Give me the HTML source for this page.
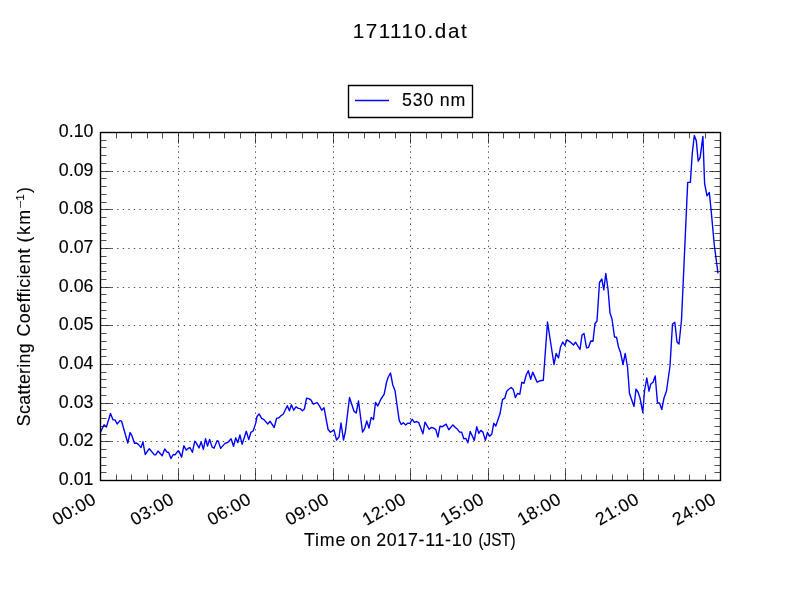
<!DOCTYPE html><html><head><meta charset="utf-8"><style>html,body{margin:0;padding:0;background:#fff;width:800px;height:600px;overflow:hidden}</style></head><body><svg width="800" height="600" viewBox="0 0 800 600" style="display:block;will-change:transform"><rect x="0" y="0" width="800" height="600" fill="#fff"/><path d="M178.50 480.5V132.5M255.50 480.5V132.5M333.50 480.5V132.5M410.50 480.5V132.5M488.50 480.5V132.5M565.50 480.5V132.5M643.50 480.5V132.5M100.5 441.50H720.5M100.5 403.50H720.5M100.5 364.50H720.5M100.5 325.50H720.5M100.5 287.50H720.5M100.5 248.50H720.5M100.5 209.50H720.5M100.5 171.50H720.5" stroke="#000" stroke-width="0.69" stroke-dasharray="1.38889 4.16667" fill="none"/><clipPath id="c"><rect x="100.5" y="132.5" width="620.0" height="348.0"/></clipPath><path d="M100.5 432.3 L104.1 424.8 L106.4 427.0 L110.5 413.5 L113.1 419.9 L115.0 419.9 L117.2 424.0 L119.9 420.6 L121.6 421.2 L127.8 443.0 L130.1 432.5 L131.9 435.7 L134.5 443.2 L136.5 443.0 L138.3 444.4 L141.1 447.6 L142.9 441.6 L145.2 454.5 L149.3 448.7 L154.4 454.9 L155.7 454.9 L158.0 451.0 L162.2 455.8 L164.7 449.0 L167.2 452.3 L168.6 452.3 L170.9 458.6 L173.2 454.5 L175.0 454.9 L178.2 450.7 L179.1 451.6 L181.6 457.1 L183.9 445.7 L186.2 450.1 L188.7 448.0 L190.1 447.8 L192.4 452.3 L194.7 441.3 L196.5 443.4 L199.0 448.0 L201.1 442.0 L203.4 449.3 L205.5 438.8 L207.5 446.1 L209.6 439.4 L212.1 447.0 L214.0 448.2 L217.2 440.6 L218.3 441.1 L220.6 448.4 L225.0 443.4 L227.7 442.5 L231.1 438.8 L233.5 446.3 L235.7 437.8 L237.8 442.6 L239.9 435.0 L242.1 444.2 L246.3 431.3 L248.8 439.6 L250.9 432.3 L253.1 431.0 L255.7 423.4 L257.0 416.5 L259.1 413.9 L261.6 418.3 L263.7 419.4 L267.8 424.0 L270.1 421.3 L274.2 427.5 L276.6 418.3 L278.6 418.1 L280.9 415.8 L283.2 414.2 L287.3 405.7 L289.4 410.8 L291.4 404.7 L293.7 410.2 L296.0 406.8 L298.3 408.4 L300.1 408.6 L302.4 410.8 L304.4 409.0 L306.5 398.3 L308.8 398.6 L311.1 400.1 L313.2 404.1 L317.1 402.6 L319.6 406.1 L321.7 410.2 L324.0 407.7 L328.1 429.5 L330.4 432.2 L334.0 430.1 L336.5 440.0 L339.0 437.0 L341.0 423.0 L343.5 440.0 L345.5 431.0 L349.5 397.5 L354.0 411.2 L356.2 413.0 L358.5 401.0 L362.5 432.0 L364.5 429.0 L366.8 421.0 L369.0 428.0 L371.2 417.5 L373.5 419.5 L375.5 402.5 L377.8 406.0 L381.0 399.0 L384.2 394.2 L386.5 382.5 L388.0 377.5 L390.5 373.0 L392.8 385.0 L395.0 390.5 L399.2 420.4 L401.2 424.5 L403.3 422.7 L405.7 425.0 L407.7 423.2 L410.0 423.4 L412.1 419.2 L414.3 422.4 L416.7 421.5 L418.8 422.7 L422.9 433.8 L425.0 422.1 L429.2 429.3 L431.2 427.5 L433.2 427.9 L435.8 429.6 L437.9 437.1 L440.0 426.2 L442.5 426.7 L446.2 424.2 L448.8 429.8 L452.9 424.9 L455.4 427.5 L457.5 429.3 L459.6 432.1 L461.7 432.3 L463.8 438.8 L465.8 438.3 L467.9 442.7 L470.2 431.5 L474.3 440.4 L476.7 426.8 L478.8 433.3 L480.8 430.4 L482.9 432.1 L485.4 440.4 L487.5 432.5 L489.6 436.2 L491.7 434.3 L493.8 423.3 L495.8 426.0 L500.0 413.8 L502.5 399.6 L504.8 398.2 L506.7 391.2 L508.8 389.2 L511.2 387.5 L513.3 389.6 L515.4 397.5 L517.5 393.5 L519.8 394.2 L521.8 382.3 L524.0 383.3 L526.2 375.0 L528.3 370.7 L530.7 379.2 L532.7 372.1 L537.1 382.1 L540.0 380.8 L543.3 380.2 L547.5 322.0 L554.0 364.5 L556.2 353.5 L558.5 358.0 L560.5 347.0 L562.8 342.0 L564.8 345.5 L567.0 339.8 L570.0 341.8 L573.5 345.0 L575.5 342.2 L580.0 349.5 L582.0 335.0 L584.0 333.5 L586.5 347.8 L588.5 347.5 L590.8 341.0 L593.0 341.2 L595.0 323.5 L597.0 321.0 L599.5 282.5 L601.8 279.0 L603.8 289.8 L605.8 273.5 L608.0 289.0 L610.0 313.0 L612.0 319.0 L614.5 337.0 L616.5 337.2 L618.5 347.0 L620.5 352.5 L623.0 364.5 L625.2 353.5 L627.5 367.0 L629.5 393.5 L634.0 406.5 L636.0 389.2 L638.0 392.0 L640.0 398.0 L642.8 412.5 L644.5 391.0 L646.8 378.0 L649.0 391.2 L650.8 384.0 L653.0 382.2 L655.2 376.0 L657.5 403.0 L659.5 403.0 L661.8 409.5 L664.0 398.0 L666.5 391.0 L670.0 366.0 L672.5 324.0 L674.8 322.2 L677.0 342.0 L679.0 344.0 L681.5 320.0 L687.7 182.4 L690.4 182.2 L692.2 154.2 L694.3 135.5 L696.3 140.8 L698.2 161.2 L700.1 157.7 L702.9 136.4 L704.6 183.5 L707.0 195.8 L709.3 192.4 L711.0 209.0 L714.3 245.0 L718.0 273.3" stroke="#0000ff" stroke-width="1.39" fill="none" stroke-linejoin="round" stroke-linecap="butt" clip-path="url(#c)"/><path d="M100.50 480.5v-11.1M100.50 132.5v11.1M116.50 480.5v-6.0M116.50 132.5v6.0M131.50 480.5v-6.0M131.50 132.5v6.0M147.50 480.5v-6.0M147.50 132.5v6.0M162.50 480.5v-6.0M162.50 132.5v6.0M178.50 480.5v-11.1M178.50 132.5v11.1M193.50 480.5v-6.0M193.50 132.5v6.0M209.50 480.5v-6.0M209.50 132.5v6.0M224.50 480.5v-6.0M224.50 132.5v6.0M240.50 480.5v-6.0M240.50 132.5v6.0M255.50 480.5v-11.1M255.50 132.5v11.1M271.50 480.5v-6.0M271.50 132.5v6.0M286.50 480.5v-6.0M286.50 132.5v6.0M302.50 480.5v-6.0M302.50 132.5v6.0M317.50 480.5v-6.0M317.50 132.5v6.0M333.50 480.5v-11.1M333.50 132.5v11.1M348.50 480.5v-6.0M348.50 132.5v6.0M364.50 480.5v-6.0M364.50 132.5v6.0M379.50 480.5v-6.0M379.50 132.5v6.0M395.50 480.5v-6.0M395.50 132.5v6.0M410.50 480.5v-11.1M410.50 132.5v11.1M426.50 480.5v-6.0M426.50 132.5v6.0M441.50 480.5v-6.0M441.50 132.5v6.0M457.50 480.5v-6.0M457.50 132.5v6.0M472.50 480.5v-6.0M472.50 132.5v6.0M488.50 480.5v-11.1M488.50 132.5v11.1M503.50 480.5v-6.0M503.50 132.5v6.0M519.50 480.5v-6.0M519.50 132.5v6.0M534.50 480.5v-6.0M534.50 132.5v6.0M550.50 480.5v-6.0M550.50 132.5v6.0M565.50 480.5v-11.1M565.50 132.5v11.1M581.50 480.5v-6.0M581.50 132.5v6.0M596.50 480.5v-6.0M596.50 132.5v6.0M612.50 480.5v-6.0M612.50 132.5v6.0M627.50 480.5v-6.0M627.50 132.5v6.0M643.50 480.5v-11.1M643.50 132.5v11.1M658.50 480.5v-6.0M658.50 132.5v6.0M674.50 480.5v-6.0M674.50 132.5v6.0M689.50 480.5v-6.0M689.50 132.5v6.0M705.50 480.5v-6.0M705.50 132.5v6.0M720.50 480.5v-11.1M720.50 132.5v11.1M100.5 480.50h11.1M720.5 480.50h-11.1M100.5 472.50h6.0M720.5 472.50h-6.0M100.5 465.50h6.0M720.5 465.50h-6.0M100.5 457.50h6.0M720.5 457.50h-6.0M100.5 449.50h6.0M720.5 449.50h-6.0M100.5 441.50h11.1M720.5 441.50h-11.1M100.5 434.50h6.0M720.5 434.50h-6.0M100.5 426.50h6.0M720.5 426.50h-6.0M100.5 418.50h6.0M720.5 418.50h-6.0M100.5 410.50h6.0M720.5 410.50h-6.0M100.5 403.50h11.1M720.5 403.50h-11.1M100.5 395.50h6.0M720.5 395.50h-6.0M100.5 387.50h6.0M720.5 387.50h-6.0M100.5 379.50h6.0M720.5 379.50h-6.0M100.5 372.50h6.0M720.5 372.50h-6.0M100.5 364.50h11.1M720.5 364.50h-11.1M100.5 356.50h6.0M720.5 356.50h-6.0M100.5 349.50h6.0M720.5 349.50h-6.0M100.5 341.50h6.0M720.5 341.50h-6.0M100.5 333.50h6.0M720.5 333.50h-6.0M100.5 325.50h11.1M720.5 325.50h-11.1M100.5 318.50h6.0M720.5 318.50h-6.0M100.5 310.50h6.0M720.5 310.50h-6.0M100.5 302.50h6.0M720.5 302.50h-6.0M100.5 294.50h6.0M720.5 294.50h-6.0M100.5 287.50h11.1M720.5 287.50h-11.1M100.5 279.50h6.0M720.5 279.50h-6.0M100.5 271.50h6.0M720.5 271.50h-6.0M100.5 263.50h6.0M720.5 263.50h-6.0M100.5 256.50h6.0M720.5 256.50h-6.0M100.5 248.50h11.1M720.5 248.50h-11.1M100.5 240.50h6.0M720.5 240.50h-6.0M100.5 233.50h6.0M720.5 233.50h-6.0M100.5 225.50h6.0M720.5 225.50h-6.0M100.5 217.50h6.0M720.5 217.50h-6.0M100.5 209.50h11.1M720.5 209.50h-11.1M100.5 202.50h6.0M720.5 202.50h-6.0M100.5 194.50h6.0M720.5 194.50h-6.0M100.5 186.50h6.0M720.5 186.50h-6.0M100.5 178.50h6.0M720.5 178.50h-6.0M100.5 171.50h11.1M720.5 171.50h-11.1M100.5 163.50h6.0M720.5 163.50h-6.0M100.5 155.50h6.0M720.5 155.50h-6.0M100.5 147.50h6.0M720.5 147.50h-6.0M100.5 140.50h6.0M720.5 140.50h-6.0M100.5 132.50h11.1M720.5 132.50h-11.1" stroke="#000" stroke-width="0.69" fill="none"/><rect x="100.5" y="132.5" width="620.0" height="348.0" stroke="#000" stroke-width="1.39" fill="none"/><g font-family='"Liberation Sans", sans-serif' fill="#000" stroke="#000" stroke-width="0.12"><text x="58.75" y="485.25" font-size="17.8" letter-spacing="0.05" text-anchor="start" >0.01</text><text x="58.75" y="446.25" font-size="17.8" letter-spacing="0.05" text-anchor="start" >0.02</text><text x="58.75" y="408.25" font-size="17.8" letter-spacing="0.05" text-anchor="start" >0.03</text><text x="58.75" y="369.25" font-size="17.8" letter-spacing="0.05" text-anchor="start" >0.04</text><text x="58.75" y="330.25" font-size="17.8" letter-spacing="0.05" text-anchor="start" >0.05</text><text x="58.75" y="292.25" font-size="17.8" letter-spacing="0.05" text-anchor="start" >0.06</text><text x="58.75" y="253.25" font-size="17.8" letter-spacing="0.05" text-anchor="start" >0.07</text><text x="58.75" y="214.25" font-size="17.8" letter-spacing="0.05" text-anchor="start" >0.08</text><text x="58.75" y="176.25" font-size="17.8" letter-spacing="0.05" text-anchor="start" >0.09</text><text x="58.75" y="137.25" font-size="17.8" letter-spacing="0.05" text-anchor="start" >0.10</text><g transform="translate(97.40 502.55) rotate(-30)"><text x="0" y="0" font-size="17.8" letter-spacing="0.5" text-anchor="end">00:00</text></g><g transform="translate(175.40 502.55) rotate(-30)"><text x="0" y="0" font-size="17.8" letter-spacing="0.5" text-anchor="end">03:00</text></g><g transform="translate(252.40 502.55) rotate(-30)"><text x="0" y="0" font-size="17.8" letter-spacing="0.5" text-anchor="end">06:00</text></g><g transform="translate(330.40 502.55) rotate(-30)"><text x="0" y="0" font-size="17.8" letter-spacing="0.5" text-anchor="end">09:00</text></g><g transform="translate(407.40 502.55) rotate(-30)"><text x="0" y="0" font-size="17.8" letter-spacing="0.5" text-anchor="end">12:00</text></g><g transform="translate(485.40 502.55) rotate(-30)"><text x="0" y="0" font-size="17.8" letter-spacing="0.5" text-anchor="end">15:00</text></g><g transform="translate(562.40 502.55) rotate(-30)"><text x="0" y="0" font-size="17.8" letter-spacing="0.5" text-anchor="end">18:00</text></g><g transform="translate(640.40 502.55) rotate(-30)"><text x="0" y="0" font-size="17.8" letter-spacing="0.5" text-anchor="end">21:00</text></g><g transform="translate(717.40 502.55) rotate(-30)"><text x="0" y="0" font-size="17.8" letter-spacing="0.5" text-anchor="end">24:00</text></g><text x="304.00" y="545.80" font-size="17.8" letter-spacing="0.833" text-anchor="start" >Time</text><text x="350.25" y="545.80" font-size="17.8" letter-spacing="0.75" text-anchor="start" >on</text><text x="376.20" y="545.80" font-size="17.8" letter-spacing="0.7" text-anchor="start" >2017-11-10</text><text transform="translate(478.6 545.8) scale(0.86 1)" x="0" y="0" font-size="17.8" letter-spacing="-0.1">(JST)</text><g transform="translate(30 0) rotate(-90)"><text x="-426.20" y="0" font-size="17.8" letter-spacing="0.311">Scattering</text></g><g transform="translate(30 0) rotate(-90)"><text x="-336.50" y="0" font-size="17.8" letter-spacing="0.42">Coefficient</text></g><g transform="translate(30 0) rotate(-90)"><text x="-242.5" y="0" font-size="17.8" letter-spacing="1.5">(km</text><text x="-200.55" y="-5.75" font-size="11">1</text><text x="-192.9" y="0" font-size="17.8">)</text></g><path d="M20.5 207.9V200.9" stroke="#000" stroke-width="0.7"/><text x="352.65" y="38.10" font-size="20.6" letter-spacing="1.55" text-anchor="start" >171110.dat</text></g><rect x="348.5" y="85.5" width="124" height="32" fill="#fff" stroke="#000" stroke-width="1.39" stroke-linejoin="round"/><path d="M355 100.5H389" stroke="#0000ff" stroke-width="1.39"/><text x="402.05" y="105.7" font-family='"Liberation Sans", sans-serif' font-size="17.8" letter-spacing="0.78" stroke="#000" stroke-width="0.12">530 nm</text></svg></body></html>
